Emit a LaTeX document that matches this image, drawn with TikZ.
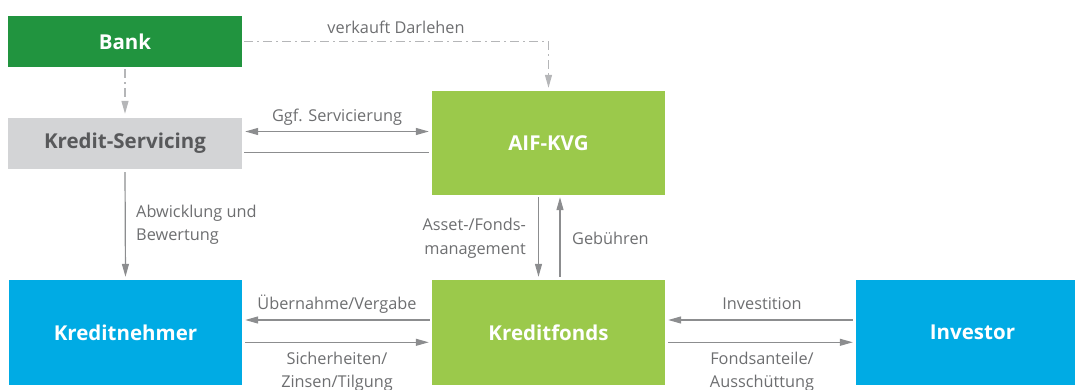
\documentclass[tikz,border=0pt]{standalone}
\usepackage{fontspec}
\setmainfont{Open Sans}
\usetikzlibrary{arrows.meta}
\definecolor{bankgreen}{HTML}{21943F}
\definecolor{kvggreen}{HTML}{9BC94B}
\definecolor{kblue}{HTML}{00ABE4}
\definecolor{ksgray}{HTML}{D3D4D6}
\definecolor{kstext}{HTML}{58595B}
\definecolor{linegray}{HTML}{8C8D8F}
\definecolor{ddgray}{HTML}{B5B6B8}
\definecolor{labelgray}{HTML}{6D6E70}
\tikzset{
  box/.style={rectangle, inner sep=0pt, text=white, font=\fontsize{20.5}{24}\selectfont\bfseries},
  smallbox/.style={box, minimum width=234pt, minimum height=51pt},
  bigbox/.style={box, minimum width=233pt, minimum height=105pt},
  tip/.tip={Triangle[length=13pt,width=7pt]},
  conn/.style={draw=linegray, line width=1.2pt, -tip},
  plainconn/.style={draw=linegray, line width=1.2pt},
  biconn/.style={draw=linegray, line width=1.2pt, tip-tip},
  ddconn/.style={draw=ddgray, line width=1.2pt, dash pattern=on 9pt off 4pt on 2pt off 4pt, -tip},
  lbl/.style={inner sep=0pt, text=labelgray, font=\fontsize{16.3}{23.5}\selectfont},
}
\begin{document}
\begin{tikzpicture}[x=1pt,y=-1pt]
\useasboundingbox (0,0) rectangle (1075,390);
\clip (0,0) rectangle (1075,390);
% boxes
\node[smallbox, fill=bankgreen] (bank) at (125,41.5) {Bank};
\node[smallbox, fill=ksgray, text=kstext] (ks) at (125,143.5) {Kredit-Servicing};
\node[box, fill=kvggreen, minimum width=233pt, minimum height=104pt] (aif) at (548.5,143) {AIF-KVG};
\node[bigbox, fill=kblue] (kn) at (125.5,332.5) {Kreditnehmer};
\node[bigbox, fill=kvggreen] (kf) at (548.5,332.5) {Kreditfonds};
\node[bigbox, fill=kblue] (inv) at (972.5,332.5) {Investor};
% connectors
\draw[ddconn, shorten <=2pt, shorten >=3pt] (bank.east) -| (aif.north);
\draw[ddconn, shorten <=2pt, shorten >=4pt] (bank.south) -- (ks.north);
\draw[biconn, shorten <=3pt, shorten >=3pt] ([yshift=12pt]ks.east) -- ([yshift=12pt]ks.east -| aif.west);
\draw[plainconn, shorten <=2pt, shorten >=3pt] ([yshift=-9pt]ks.east) -- ([yshift=-9pt]ks.east -| aif.west);
\draw[conn, shorten <=3pt, shorten >=3pt] (ks.south) -- (kn.north);
\draw[conn, shorten <=2pt, shorten >=3pt] ([xshift=-10pt]aif.south) -- ([xshift=-10pt]aif.south |- kf.north);
\draw[conn, shorten <=3pt, shorten >=2pt] ([xshift=11.5pt]aif.south |- kf.north) -- ([xshift=11.5pt]aif.south);
\draw[conn, shorten <=2pt, shorten >=3pt] ([yshift=12.5pt]kf.west) -- ([yshift=12.5pt]kn.east);
\draw[conn, shorten <=3pt, shorten >=3pt] ([yshift=-9.8pt]kn.east) -- ([yshift=-9.8pt]kf.west);
\draw[conn, shorten <=3pt, shorten >=3pt] ([yshift=12.5pt]inv.west) -- ([yshift=12.5pt]kf.east);
\draw[conn, shorten <=3pt, shorten >=3pt] ([yshift=-9.8pt]kf.east) -- ([yshift=-9.8pt]inv.west);
% labels
\node[lbl] (l1) at (396,27) {verkauft Darlehen};
\node[lbl] (l2) at (337,117) {Ggf. Servicierung};
\node[lbl, align=left, anchor=west] (l3) at (136,225) {Abwicklung und\\Bewertung};
\node[lbl, align=right, anchor=east] (l4) at (526,238.5) {Asset-/Fonds-\\management};
\node[lbl, anchor=west] (l5) at (572,238) {Gebühren};
\node[lbl] (l6) at (337,304) {Übernahme/Vergabe};
\node[lbl, align=center] (l7) at (337,372) {Sicherheiten/\\Zinsen/Tilgung};
\node[lbl] (l8) at (762,304) {Investition};
\node[lbl, align=center] (l9) at (762,372) {Fondsanteile/\\Ausschüttung};
\end{tikzpicture}
\end{document}
